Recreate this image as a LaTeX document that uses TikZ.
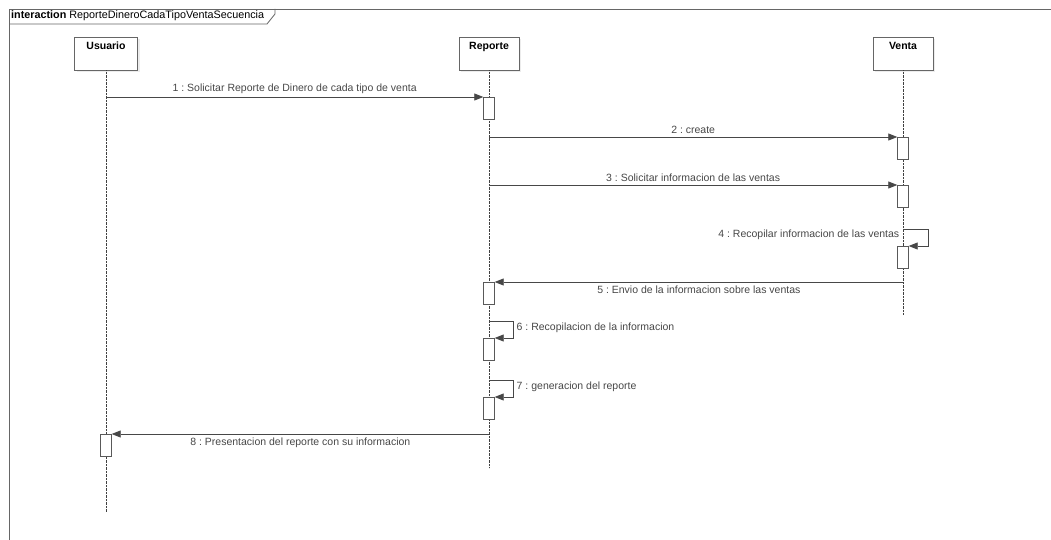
\documentclass[tikz,border=0pt]{standalone}
\usepackage{fontspec}
\setmainfont{Liberation Sans}
\usepackage{tikz}
\usetikzlibrary{arrows.meta,calc,positioning,shadows}
\frenchspacing

\begin{document}
\begin{tikzpicture}[x=1pt,y=-1pt,>={Triangle[length=9pt,width=7pt]},
  head/.style={draw=black!60,fill=white,minimum width=60pt,inner xsep=3pt,inner ysep=3pt,text height=9pt,text depth=18pt,anchor=north,font=\fontsize{10.5}{12}\selectfont\bfseries,drop shadow={opacity=0.15,shadow xshift=2pt,shadow yshift=-2pt}},
  act/.style={draw=black!65,fill=white,minimum width=11pt,minimum height=22pt,inner sep=0pt,anchor=north},
  life/.style={densely dotted,black!75},
  msg/.style={->,black!72,line width=0.8pt},
  lab/.style={text=black!72,font=\fontsize{10.5}{12}\selectfont},
  frame/.style={black!60,line width=0.8pt}]
  \useasboundingbox (0,0) rectangle (1051,540);
  \draw[frame] (9,540) -- (9,9) -- (1051,9);
  \draw[frame] (9,24) -- (267,24) -- (275,14) -- (275,9);
  \node[anchor=west,inner sep=1pt,font=\fontsize{10.8}{12}\selectfont] (titulo) at (10,16) {\textbf{interaction} ReporteDineroCadaTipoVentaSecuencia};

  \node[head,minimum width=63pt] (usuario) at (106,37) {Usuario};
  \node[head] (reporte) at (489,37) {Reporte};
  \node[head] (venta) at (903,37) {Venta};
  \draw[life] (usuario) -- (usuario |- 0,512);
  \draw[life] (reporte) -- (reporte |- 0,468);
  \draw[life] (venta) -- (venta |- 0,315);

  \foreach \n/\x/\y in {a1/489/97,a2/903/137,a3/903/185,a4/903/246,a5/489/282,a6/489/338,a7/489/397,a8/106/434}
    \node[act] (\n) at (\x,\y) {};

  \draw[msg] (usuario |- a1.north) -- (a1.north west) node[lab,midway,above] {1 : Solicitar Reporte de Dinero de cada tipo de venta};
  \draw[msg] (reporte |- a2.north) -- (a2.north west) node[lab,midway,above] {2 : create};
  \draw[msg] (reporte |- a3.north) -- (a3.north west) node[lab,midway,above] {3 : Solicitar informacion de las ventas};
  \draw[msg] ($(venta |- a4.north)+(0,-17)$) node[lab,left,yshift=-6pt] {4 : Recopilar informacion de las ventas} -- ++(25,0) |- (a4.north east);
  \draw[msg] (venta |- a5.north) -- (a5.north east) node[lab,midway,below] {5 : Envio de la informacion sobre las ventas};
  \draw[msg] ($(reporte |- a6.north)+(0,-17)$) -- ++(24,0) node[lab,right,yshift=-7pt] {6 : Recopilacion de la informacion} |- (a6.north east);
  \draw[msg] ($(reporte |- a7.north)+(0,-17)$) -- ++(24,0) node[lab,right,yshift=-7pt] {7 : generacion del reporte} |- (a7.north east);
  \draw[msg] (reporte |- a8.north) -- (a8.north east) node[lab,midway,below] {8 : Presentacion del reporte con su informacion};
\end{tikzpicture}
\end{document}
